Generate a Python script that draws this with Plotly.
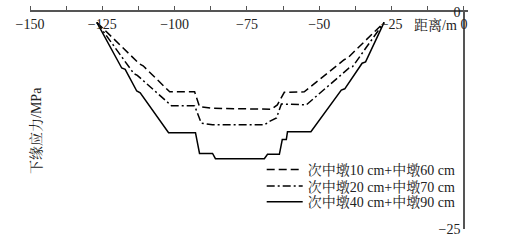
import plotly.graph_objects as go

# ---- data (distance in m, bottom-edge stress in MPa) ----
dashed_x = [-126.9, -112.1, -110.9, -101.7, -93.1, -91.4, -86.9, -66.6, -64.5, -62.1, -55.2, -41.4, -40.2, -27.6]
dashed_y = [-1.2, -6.0, -6.2, -9.2, -9.2, -10.9, -11.1, -11.2, -10.7, -9.25, -9.2, -5.5, -5.3, -1.2]

dashdot_x = [-126.9, -114.1, -112.9, -101.1, -93.1, -90.8, -86.9, -69.0, -67.2, -64.8, -63.1, -54.5, -39.7, -38.5, -27.6]
dashdot_y = [-1.2, -7.1, -7.3, -10.8, -10.8, -12.8, -13.0, -13.0, -12.6, -12.2, -10.6, -10.7, -6.45, -6.3, -1.2]

solid_x = [-126.9, -118.3, -117.1, -113.1, -111.9, -102.1, -92.8, -91.4, -86.9, -85.9, -69.0, -67.9,
           -63.8, -62.8, -61.4, -61.0, -52.9, -42.4, -41.2, -35.2, -34.0, -27.6]
solid_y = [-1.2, -6.45, -6.6, -9.1, -9.3, -13.9, -13.9, -16.3, -16.3, -16.9, -16.9, -16.4,
           -16.4, -14.7, -14.7, -13.8, -13.8, -9.0, -8.85, -5.9, -5.75, -1.2]

series_names = ["次中墩10 cm+中墩60 cm", "次中墩20 cm+中墩70 cm", "次中墩40 cm+中墩90 cm"]

x_tickvals = [-150, -137.5, -125, -112.5, -100, -87.5, -75, -62.5, -50, -37.5, -25, -12.5, 0]
x_ticktext = ["−150", "", "−125", "", "−100", "", "−75", "", "−50", "", "−25", "", "0"]
y_tickvals = [-25, 0]
y_ticktext = ["−25", "0"]

x_title = "距离/m"
y_title = "下缘应力/MPa"

FONT = "Liberation Serif, Noto Serif CJK SC, Noto Sans CJK SC, serif"
TXT = "#222222"
AX = "#555555"

fig = go.Figure()
styles = [("8px,4px", "legend"), ("8px,3px,2px,3px", "legend2"), ("solid", "legend3")]
for (xs, ys), name, (dash, lg) in zip([(dashed_x, dashed_y), (dashdot_x, dashdot_y), (solid_x, solid_y)],
                                     series_names, styles):
    fig.add_trace(go.Scatter(x=xs, y=ys, mode="lines", name=name, legend=lg,
                             line=dict(color="black", width=1.5, dash=dash)))

XMAX = 1.4
leg_common = dict(x=0.529, xanchor="left", yanchor="middle", bgcolor="rgba(0,0,0,0)",
                  font=dict(family=FONT, size=14, color=TXT), itemwidth=36)

fig.update_layout(
    width=508, height=241,
    margin=dict(l=30, r=40, t=12, b=12, autoexpand=False),
    paper_bgcolor="white", plot_bgcolor="white",
    font=dict(family=FONT, size=14, color=TXT),
    showlegend=True,
    legend=dict(y=0.272, **leg_common),
    legend2=dict(y=0.196, **leg_common),
    legend3=dict(y=0.124, **leg_common),
    xaxis=dict(range=[-150, XMAX], side="top", showgrid=False, zeroline=False,
               showline=True, linecolor=AX, linewidth=1.5,
               ticks="outside", ticklen=4, tickcolor=AX, tickwidth=1,
               tickvals=x_tickvals, ticktext=x_ticktext,
               ticklabelposition="inside", ticklabeloverflow="allow", ticklabelstandoff=7,
               tickfont=dict(family=FONT, size=14, color=TXT)),
    yaxis=dict(range=[-25, 0], anchor="free", position=150 / (150 + XMAX), side="left",
               showgrid=False, zeroline=False, showline=True, linecolor=AX, linewidth=1.5,
               ticks="inside", ticklen=4, tickcolor=AX, tickwidth=1,
               tickvals=y_tickvals, ticktext=y_ticktext,
               tickfont=dict(family=FONT, size=14, color=TXT)),
    annotations=[
        dict(text=x_title, xref="paper", yref="paper", x=0.925, y=0.938, showarrow=False,
             xanchor="center", yanchor="middle",
             font=dict(family=FONT, size=14, color=TXT)),
        dict(text=y_title, xref="paper", yref="paper", x=0.0148, y=0.454, showarrow=False,
             xanchor="center", yanchor="middle",
             textangle=-90, font=dict(family=FONT, size=14, color=TXT)),
    ],
)

fig.write_html("out.html")
